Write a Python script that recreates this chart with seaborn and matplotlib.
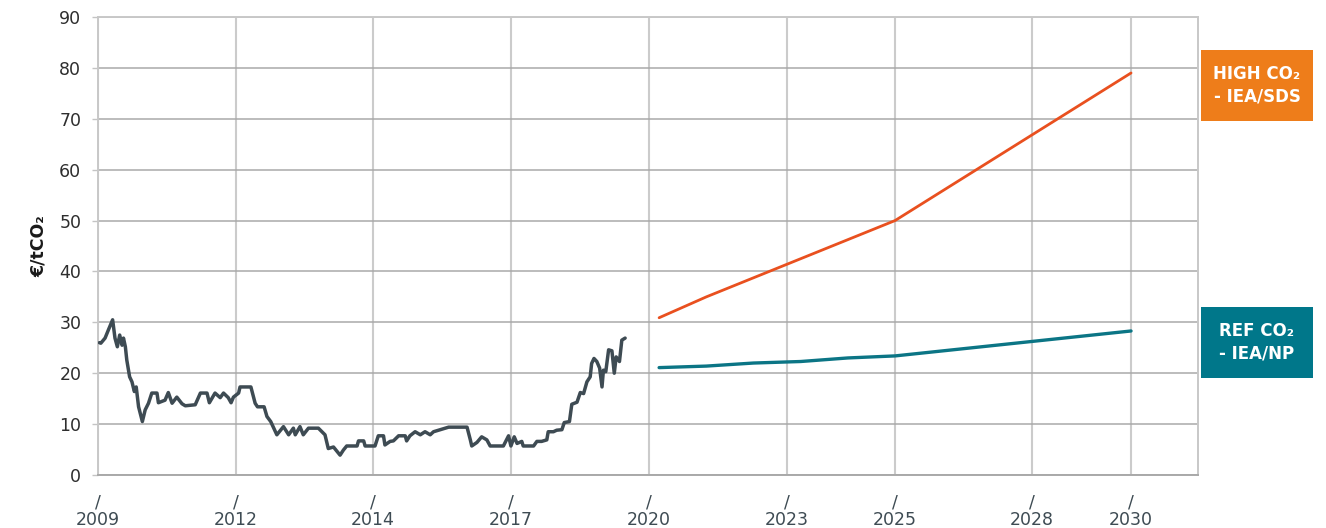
import pandas as pd
import numpy as np
import matplotlib.pyplot as plt
import seaborn as sns
from matplotlib.patches import Rectangle

# --- Data
hist_years = [2008.14, 2008.17, 2008.26, 2008.33, 2008.42, 2008.47, 2008.52, 2008.57, 2008.62, 2008.65,
              2008.69, 2008.72, 2008.78, 2008.83, 2008.88, 2008.92, 2008.97, 2009.05, 2009.11, 2009.18,
              2009.25, 2009.36, 2009.39, 2009.53, 2009.60, 2009.68, 2009.78, 2009.89, 2009.96, 2010.17,
              2010.28, 2010.42, 2010.47, 2010.59, 2010.70, 2010.77, 2010.87, 2010.93, 2010.98, 2011.09,
              2011.12, 2011.35, 2011.44, 2011.49, 2011.63, 2011.69, 2011.77, 2011.90, 2012.04, 2012.15,
              2012.25, 2012.29, 2012.39, 2012.46, 2012.57, 2012.68, 2012.78, 2012.92, 2012.99, 2013.10,
              2013.24, 2013.31, 2013.38, 2013.60, 2013.63, 2013.74, 2013.77, 2013.98, 2014.05, 2014.16,
              2014.19, 2014.30, 2014.37, 2014.48, 2014.62, 2014.65, 2014.72, 2014.83, 2014.94, 2015.04,
              2015.15, 2015.22, 2015.54, 2015.93, 2016.00, 2016.03, 2016.14, 2016.24, 2016.35, 2016.42,
              2016.70, 2016.81, 2016.86, 2016.93, 2016.99, 2017.09, 2017.12, 2017.34, 2017.41, 2017.51,
              2017.62, 2017.65, 2017.76, 2017.83, 2017.94, 2017.99, 2018.10, 2018.15, 2018.26, 2018.33,
              2018.40, 2018.47, 2018.54, 2018.57, 2018.62, 2018.68, 2018.74, 2018.79, 2018.82, 2018.87,
              2018.93, 2019.00, 2019.05, 2019.09, 2019.16, 2019.21, 2019.28]
hist_prices = [26.0, 25.9, 26.9, 28.5, 30.5, 26.9, 25.2, 27.5, 25.5, 26.9,
               25.2, 22.6, 19.3, 18.3, 16.4, 17.3, 13.4, 10.5, 12.8, 14.1,
               16.1, 16.1, 14.2, 14.7, 16.2, 14.1, 15.3, 14.0, 13.6, 13.8,
               16.1, 16.1, 14.2, 16.1, 15.2, 16.1, 15.2, 14.2, 15.3, 16.1,
               17.3, 17.3, 14.1, 13.4, 13.4, 11.5, 10.5, 7.9, 9.5, 7.9,
               9.2, 7.9, 9.5, 7.9, 9.2, 9.2, 9.2, 7.9, 5.2, 5.5,
               3.9, 4.9, 5.7, 5.7, 6.7, 6.7, 5.7, 5.7, 7.7, 7.7,
               5.9, 6.6, 6.7, 7.7, 7.7, 6.7, 7.7, 8.5, 7.9, 8.5,
               7.9, 8.5, 9.4, 9.4, 6.9, 5.7, 6.4, 7.5, 6.9, 5.7,
               5.7, 7.7, 5.7, 7.5, 6.2, 6.6, 5.7, 5.7, 6.6, 6.6,
               6.9, 8.5, 8.5, 8.8, 8.9, 10.3, 10.5, 13.9, 14.3, 16.2,
               16.0, 18.3, 19.3, 21.9, 22.9, 22.3, 21.0, 17.3, 20.6, 20.3,
               24.6, 24.4, 20.0, 23.2, 22.3, 26.5, 26.9]

high_years = [2020, 2021, 2025, 2030]
high_prices = [30.9, 35.0, 50.0, 79.0]

ref_years = [2020, 2021, 2022, 2023, 2024, 2025, 2030]
ref_prices = [21.1, 21.4, 22.0, 22.3, 23.0, 23.4, 28.3]

tick_years = [2008.11, 2011.03, 2013.94, 2016.86, 2019.78, 2022.70, 2025.0, 2027.9, 2030.0]
tick_labels = ["2009", "2012", "2014", "2017", "2020", "2023", "2025", "2028", "2030"]
y_ticks = [0, 10, 20, 30, 40, 50, 60, 70, 80, 90]

# --- Style
sns.set_style("white")
plt.rcParams['font.family'] = ['DejaVu Sans']

fig, ax = plt.subplots(figsize=(13.26, 5.28), dpi=100)
fig.subplots_adjust(left=0.0739, right=0.9035, top=0.9678, bottom=0.1004)

hist = pd.DataFrame({"year": hist_years, "price": hist_prices})
high = pd.DataFrame({"year": high_years, "price": high_prices})
ref = pd.DataFrame({"year": ref_years, "price": ref_prices})

sns.lineplot(data=hist, x="year", y="price", color="#3e4b53", lw=2.5, ax=ax, zorder=3)
sns.lineplot(data=high, x="year", y="price", color="#e9501f", lw=2.0, ax=ax, zorder=3)
sns.lineplot(data=ref, x="year", y="price", color="#0b7585", lw=2.4, ax=ax, zorder=3)

ax.set_xlim(2008.11, 2031.42)
ax.set_ylim(0, 90)
ax.set_yticks(y_ticks)
ax.set_xticks(tick_years)
ax.set_xticklabels(["/\n" + t for t in tick_labels], linespacing=1.0)

ax.yaxis.grid(True, color="#a9a9a9", lw=1.1)
ax.xaxis.grid(True, color="#cbcbcb", lw=1.5)
ax.set_axisbelow(True)
for s in ax.spines.values():
    s.set_color("#c8c8c8")
    s.set_linewidth(1.4)
ax.spines["bottom"].set_color("#a9a9a9")

ax.tick_params(axis="y", left=True, length=4, width=1, color="#c4c4c4",
               labelsize=12.5, labelcolor="#2e2e2e", pad=8)
ax.tick_params(axis="x", bottom=False, length=0, labelsize=12.5,
               labelcolor="#3e4b53", pad=13)

ax.set_xlabel("")
ax.set_ylabel("€/tCO₂", fontsize=12.5, fontweight="bold", color="#1a1a1a", labelpad=8)

# --- Scenario labels on the right
boxes = [
    (0.9057, 1 - 121 / 528, "#ee7d1a", "HIGH CO₂\n- IEA/SDS"),
    (0.9057, 1 - 378 / 528, "#00778a", "REF CO₂\n- IEA/NP"),
]
for x0, y0, col, txt in boxes:
    w, h = 112 / 1326, 71 / 528
    fig.patches.append(Rectangle((x0, y0), w, h, transform=fig.transFigure,
                                 facecolor=col, edgecolor="none"))
    fig.text(x0 + w / 2, y0 + h / 2, txt, ha="center", va="center", color="white",
             fontsize=12, fontweight="bold", linespacing=1.35)

fig.savefig("out.png", dpi=100)
